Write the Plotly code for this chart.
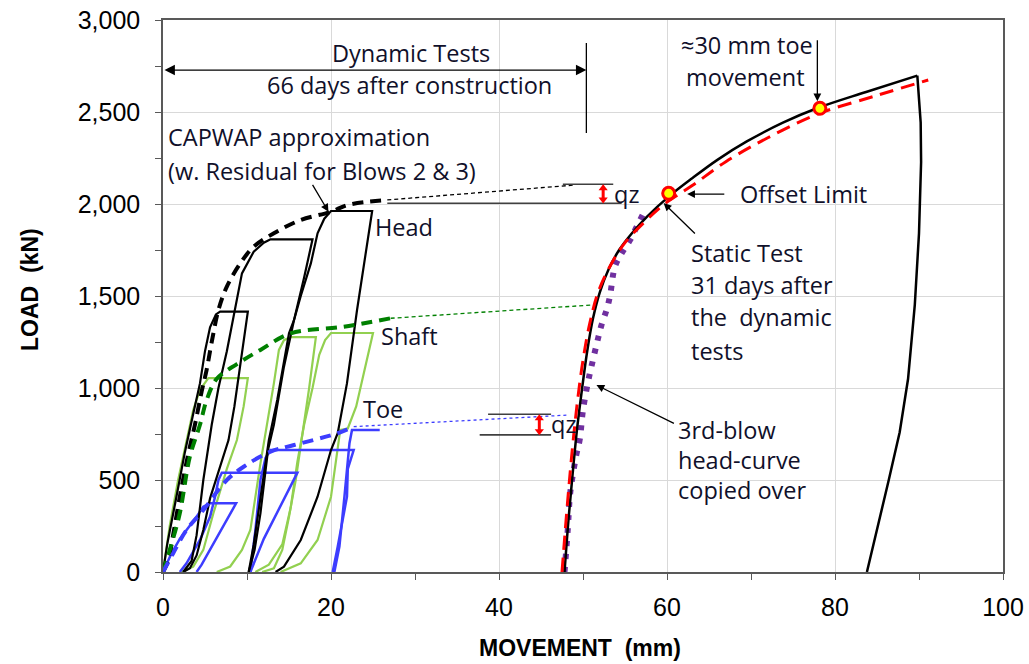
import plotly.graph_objects as go

# ---------------- data (movement mm, load kN) ----------------
# Dynamic head curves (3 blows)
head1_x = [0, 0.5, 1.6, 2.6, 3.6, 4.4, 5.0, 5.6, 6.3, 6.8, 10.1, 9.6, 9.2, 8.5, 7.8, 6.6, 5.6, 4.8, 4.0, 3.2, 2.4]
head1_y = [0, 150, 409, 650, 860, 1025, 1200, 1330, 1400, 1415, 1415, 1250, 1116, 900, 717, 550, 400, 228, 90, 20, 0]
head2_x = [2.4, 3.4, 4.0, 4.8, 5.8, 6.6, 7.6, 8.6, 9.4, 10.8, 12.0, 12.8, 17.8, 16.8, 15.6, 15.0, 13.6, 12.6, 11.6, 10.8, 10.2]
head2_y = [0, 60, 200, 500, 800, 1000, 1200, 1424, 1623, 1741, 1790, 1808, 1808, 1600, 1370, 1297, 935, 717, 409, 150, 0]
head3_x = [10.2, 10.9, 11.6, 12.5, 13.2, 14.4, 15.6, 16.4, 17.6, 18.4, 19.2, 20.0, 24.9, 23.1, 21.9, 20.8, 20.0, 18.4, 16.4, 14.4, 13.4]
head3_y = [0, 120, 319, 663, 800, 1116, 1370, 1500, 1677, 1841, 1920, 1962, 1962, 1424, 1025, 754, 663, 409, 174, 29, 0]

# Dynamic shaft curves (3 blows)
shaft1_x = [0, 0.8, 1.8, 2.8, 3.6, 4.4, 5.4, 10.1, 9.6, 8.8, 7.6, 6.0, 4.8, 3.6, 2.2]
shaft1_y = [0, 250, 500, 720, 880, 990, 1054, 1054, 900, 717, 560, 319, 120, 29, 0]
shaft2_x = [6.4, 8.0, 9.4, 10.4, 11.6, 12.4, 13.2, 13.8, 14.4, 15.2, 18.2, 17.4, 16.6, 15.8, 15.0, 14.2, 13.2, 11.8]
shaft2_y = [0, 30, 120, 228, 590, 800, 1025, 1207, 1260, 1277, 1277, 1000, 750, 500, 300, 120, 20, 0]
shaft3_x = [11.0, 12.6, 14.2, 15.2, 16.0, 16.8, 17.8, 18.6, 19.3, 20.0, 25.0, 24.0, 23.0, 22.0, 21.1, 20.0, 18.4, 16.4, 14.0]
shaft3_y = [0, 40, 150, 350, 600, 800, 1000, 1180, 1260, 1299, 1299, 1100, 900, 780, 772, 409, 174, 47, 0]

# Dynamic toe curves
toe1_x = [0, 1.0, 2.0, 3.0, 4.0, 4.8, 5.6, 8.7, 6.0, 4.6, 4.0]
toe1_y = [0, 100, 180, 240, 300, 355, 373, 373, 150, 40, 0]
toe2_x = [2.0, 2.8, 4.4, 5.6, 6.2, 6.6, 7.0, 16.0, 12.0, 10.4]
toe2_y = [0, 47, 174, 300, 409, 500, 540, 540, 180, 0]
toe3_x = [10.4, 11.0, 11.6, 12.2, 12.8, 22.7, 22.0, 21.9, 20.8, 20.2]
toe3_y = [0, 228, 500, 620, 663, 663, 560, 409, 138, 0]
toe4_x = [20.4, 21.0, 21.6, 22.2, 22.5, 25.8]
toe4_y = [0, 138, 409, 700, 772, 772]

# CAPWAP approximations (thick dashed)
cap_head_x = [0, 0.6, 1.2, 2.0, 3.0, 3.8, 4.6, 5.2, 5.8, 6.6, 7.6, 9.2, 10.8, 13.2, 16.4, 20.0, 22.0, 26.7]
cap_head_y = [0, 60, 200, 409, 640, 800, 980, 1100, 1250, 1424, 1551, 1677, 1768, 1841, 1913, 1958, 1995, 2022]
cap_shaft_x = [0, 1.0, 2.0, 3.2, 4.4, 5.2, 6.4, 8.8, 11.6, 15.2, 21.5, 27.1]
cap_shaft_y = [0, 150, 319, 627, 800, 935, 1050, 1130, 1207, 1297, 1333, 1379]
cap_toe_x = [0, 1.2, 2.8, 4.8, 7.6, 9.6, 12.8, 15.6, 20.8, 22.7]
cap_toe_y = [0, 101, 228, 337, 500, 572, 654, 690, 754, 790]

# Thin extrapolations
ext_head_x = [26.7, 49.0]
ext_head_y = [2022, 2103]
ext_shaft_x = [27.1, 51.0]
ext_shaft_y = [1379, 1451]
ext_toe_x = [22.7, 48.2]
ext_toe_y = [790, 853]

# qz brackets
qz_head_low_x = [26.7, 54.6]
qz_head_low_y = [2004, 2004]
qz_head_up_x = [47.6, 53.6]
qz_head_up_y = [2107, 2107]
qz_toe_up_x = [38.7, 46.2]
qz_toe_up_y = [857, 857]
qz_toe_low_x = [37.7, 46.2]
qz_toe_low_y = [745, 745]
qz_head_mark_x = [52.4, 52.4]
qz_head_mark_y = [2025, 2085]
qz_toe_mark_x = [44.8, 44.8]
qz_toe_mark_y = [765, 835]

# Static test
static_load_x = [47.8, 48.3, 48.8, 49.3, 49.9, 50.5, 51.2, 52.0, 53.0, 54.3, 55.8, 57.6, 60.2,
                 63.0, 66.0, 69.5, 73.8, 78.0, 83.7, 89.8]
static_load_y = [0, 300, 550, 780, 1000, 1200, 1380, 1520, 1640, 1750, 1840, 1930, 2040,
                 2140, 2240, 2340, 2442, 2523, 2609, 2698]
static_unload_x = [89.8, 90.2, 90.25, 90.0, 89.5, 88.7, 87.7, 86.4, 83.8]
static_unload_y = [2698, 2442, 2228, 1840, 1452, 1050, 760, 500, 0]
fit_x = [47.5, 48.2, 48.8, 49.4, 50.0, 50.8, 51.8, 53.2, 55.0, 57.5, 60.0, 63.0, 67.0, 72.0, 78.0, 85.0, 91.1]
fit_y = [0, 400, 700, 950, 1150, 1350, 1520, 1660, 1790, 1910, 2010, 2100, 2230, 2360, 2490, 2590, 2674]
copy_x = [47.8, 48.2, 48.4, 48.6, 49.2, 49.6, 50.0, 50.6, 51.0, 51.8, 52.2, 52.8, 53.2, 53.8, 54.6, 55.6, 56.4, 57.2]
copy_y = [0, 239, 391, 473, 636, 717, 880, 1034, 1116, 1271, 1342, 1424, 1496, 1659, 1732, 1804, 1877, 1949]

pts_x = [60.2, 78.2]
pts_y = [2058, 2520]

# annotation text
txt_font = "Open Sans"
txt_size = 23.5
ann_col = "#10102a"

fig = go.Figure()

def line(x, y, color, width, dash="solid", shape="linear"):
    fig.add_trace(go.Scatter(x=x, y=y, mode="lines", showlegend=False, hoverinfo="skip",
                             line=dict(color=color, width=width, dash=dash, shape=shape)))

# dynamic loops
for xs, ys in [(shaft1_x, shaft1_y), (shaft2_x, shaft2_y), (shaft3_x, shaft3_y)]:
    line(xs, ys, "#92D050", 2.2)
for xs, ys in [(toe1_x, toe1_y), (toe2_x, toe2_y), (toe3_x, toe3_y), (toe4_x, toe4_y)]:
    line(xs, ys, "#3D3DFF", 2.5)
for xs, ys in [(head1_x, head1_y), (head2_x, head2_y), (head3_x, head3_y)]:
    line(xs, ys, "#000000", 2.2)

# CAPWAP
line(cap_head_x, cap_head_y, "#000000", 4, "11px,7px", "spline")
line(cap_shaft_x, cap_shaft_y, "#008000", 4, "11px,7px", "spline")
line(cap_toe_x, cap_toe_y, "#3D3DFF", 4, "11px,7px", "spline")

# extensions
line(ext_head_x, ext_head_y, "#000000", 1.3, "4px,3px")
line(ext_shaft_x, ext_shaft_y, "#008000", 1.3, "4px,3px")
line(ext_toe_x, ext_toe_y, "#3D3DFF", 1.3, "3px,3px")

# qz brackets
for xs, ys in [(qz_head_low_x, qz_head_low_y), (qz_head_up_x, qz_head_up_y),
               (qz_toe_up_x, qz_toe_up_y), (qz_toe_low_x, qz_toe_low_y)]:
    line(xs, ys, "#404040", 1.6)
for xs, ys in [(qz_head_mark_x, qz_head_mark_y), (qz_toe_mark_x, qz_toe_mark_y)]:
    fig.add_trace(go.Scatter(x=xs, y=ys, mode="lines+markers", showlegend=False, hoverinfo="skip",
                             line=dict(color="#FF0000", width=3),
                             marker=dict(symbol=["triangle-down", "triangle-up"], size=8, color="#FF0000")))

# static test
line(copy_x, copy_y, "#7030A0", 6, "5px,8px", "spline")
line(static_load_x, static_load_y, "#000000", 2.5, "solid", "spline")
line(static_unload_x, static_unload_y, "#000000", 2.5, "solid", "linear")
line(fit_x, fit_y, "#FF0000", 3, "14px,8px", "spline")
fig.add_trace(go.Scatter(x=pts_x, y=pts_y, mode="markers", showlegend=False, hoverinfo="skip",
                         marker=dict(symbol="circle", size=12, color="#FFFF00",
                                     line=dict(color="#FF0000", width=3))))

# ---------------- annotations ----------------
texts = [
    ("Dynamic Tests", 29.5, 2821, "center"),
    ("66 days after construction", 29.4, 2647, "center"),
    ("CAPWAP approximation", 0.4, 2364, "left"),
    ("(w. Residual for Blows 2 & 3)", 0.4, 2179, "left"),
    ("Head", 25.0, 1875, "left"),
    ("Shaft", 25.7, 1283, "left"),
    ("Toe", 23.6, 886, "left"),
    ("qz", 53.5, 2054, "left"),
    ("qz", 45.9, 804, "left"),
    ("≈30 mm toe", 69.5, 2864, "center"),
    ("movement", 69.4, 2690, "center"),
    ("Offset Limit", 76.3, 2054, "center"),
    ("Static Test", 62.6, 1734, "left"),
    ("31 days after", 62.6, 1560, "left"),
    ("the  dynamic", 62.6, 1386, "left"),
    ("tests", 62.6, 1201, "left"),
    ("3rd-blow", 61.1, 772, "left"),
    ("head-curve", 61.1, 609, "left"),
    ("copied over", 61.1, 446, "left"),
]
for t, x, y, anc in texts:
    fig.add_annotation(x=x, y=y, text=t, showarrow=False, xanchor=anc, yanchor="middle",
                       font=dict(family=txt_font, size=txt_size, color=ann_col))

arrows = [  # head x, head y, tail x, tail y
    (19.7, 1958, 17.7, 2112),
    (77.9, 2558, 77.9, 2898),
    (62.4, 2054, 67.0, 2054),
    (59.6, 2005, 63.5, 1832),
    (51.6, 1016, 61.0, 804),
]
for hx, hy, tx, ty in arrows:
    fig.add_annotation(x=hx, y=hy, ax=tx, ay=ty, xref="x", yref="y", axref="x", ayref="y",
                       text="", showarrow=True, arrowhead=2, arrowsize=1.2, arrowwidth=1.3,
                       arrowcolor="#000000")
# double-headed span arrow for dynamic tests
span_x = [0, 50.4]
span_y = 2728
fig.add_annotation(x=span_x[1], y=span_y, ax=span_x[0], ay=span_y, xref="x", yref="y",
                   axref="x", ayref="y", text="", showarrow=True, arrowhead=2, startarrowhead=2,
                   arrowside="end+start", arrowsize=1.6, startarrowsize=1.6, arrowwidth=1.3,
                   arrowcolor="#000000")
fig.add_shape(type="line", x0=50.4, x1=50.4, y0=2386, y1=2875, xref="x", yref="y",
              line=dict(color="#000000", width=1.3))

# axis titles
fig.add_annotation(x=0.4964, y=-0.1377, xref="paper", yref="paper", text="<b>MOVEMENT  (mm)</b>",
                   showarrow=False, xanchor="center", yanchor="middle",
                   font=dict(family="Liberation Sans", size=23, color="#000000"))
fig.add_annotation(x=-0.1583, y=0.511, xref="paper", yref="paper", text="<b>LOAD  (kN)</b>",
                   showarrow=False, textangle=-90, xanchor="center", yanchor="middle",
                   font=dict(family="Liberation Sans", size=23, color="#000000"))

axis_font = dict(family="Liberation Sans", size=25, color="#000000")
fig.update_layout(
    width=1029, height=664,
    margin=dict(l=163, r=26, t=20, b=92),
    paper_bgcolor="white", plot_bgcolor="white",
    xaxis=dict(range=[0, 100], tickvals=[0, 20, 40, 60, 80, 100], ticks="outside", ticklen=6,
               tickcolor="#595959", minor=dict(dtick=10, ticks="outside", ticklen=6, tickcolor="#595959"),
               showgrid=True, gridcolor="#D9D9D9", gridwidth=1.3, zeroline=False,
               showline=True, linecolor="#595959", linewidth=1.5, mirror=True,
               tickfont=axis_font, automargin=False, ticklabelstandoff=6,
               ticklabeloverflow="allow"),
    yaxis=dict(range=[0, 3000], tickvals=[0, 500, 1000, 1500, 2000, 2500, 3000], tickformat=",",
               ticks="outside", ticklen=6, tickcolor="#595959",
               minor=dict(dtick=250, ticks="outside", ticklen=6, tickcolor="#595959"),
               showgrid=True, gridcolor="#D9D9D9", gridwidth=1.3, zeroline=False,
               showline=True, linecolor="#595959", linewidth=1.5, mirror=True,
               tickfont=axis_font, automargin=False, ticklabelstandoff=10,
               ticklabeloverflow="allow"),
)

fig.write_html("out.html", config={"displayModeBar": False},
               post_script="document.body.style.margin='0px';document.body.style.overflow='hidden';")
